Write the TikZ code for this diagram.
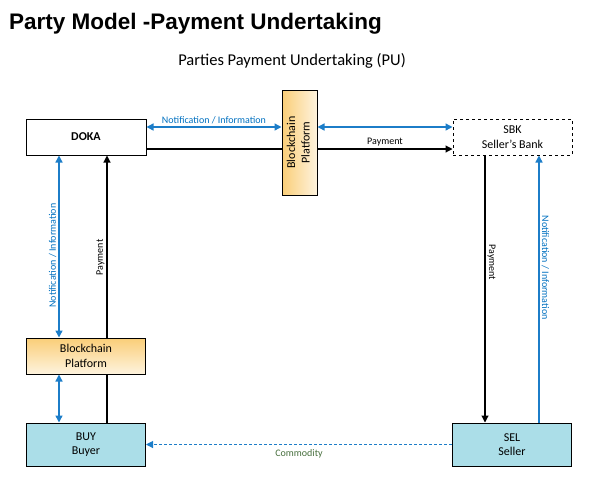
\documentclass[tikz,border=0pt]{standalone}
\usepackage{fontspec}
\setmainfont{Carlito}
\newfontfamily\titlefont{Liberation Sans}
\usetikzlibrary{positioning, arrows.meta}

\definecolor{infoblue}{RGB}{0,112,192}
\definecolor{linkblue}{RGB}{28,125,200}
\definecolor{goodsgreen}{RGB}{70,110,60}
\definecolor{chaintop}{RGB}{250,206,120}
\definecolor{chainbot}{RGB}{254,243,222}
\definecolor{partyfill}{RGB}{171,222,232}

\begin{document}
\begin{tikzpicture}[x=1pt, y=-1pt, node distance=100pt, on grid, auto]
        \tikzset{>={Triangle[length=7pt,width=7pt]}}
        % Define attributes for boxes and links
        \tikzstyle{party}=[draw, line width=1pt, minimum width=119pt, minimum height=36pt, align=center, inner sep=0pt, font=\fontsize{12}{14.5}\selectfont]
        \tikzstyle{party fill}=[party, fill=partyfill, minimum height=43pt]
        \tikzstyle{chain}=[party, top color=chaintop, bottom color=chainbot]
        \tikzstyle{info}=[linkblue, line width=1.4pt, <->]
        \tikzstyle{pay}=[black, line width=1.1pt]
        \tikzstyle{lbl}=[font=\fontsize{10}{12}\selectfont, inner sep=2pt]

        \useasboundingbox (0,0) rectangle (592,483);
        \node[anchor=base west, font=\titlefont\bfseries\fontsize{22.5}{26}\selectfont, inner sep=0pt] (title) at (9,29) {Party Model -Payment Undertaking};
        \node[font=\fontsize{16.5}{20}\selectfont, inner sep=0pt] (subtitle) at (292,61) {Parties Payment Undertaking (PU)};

        \node[party, minimum width=120pt] (doka) at (86,137) {\textbf{DOKA}};
        \node[party, dashed] (sbk) [right=426.5pt of doka] {SBK\\Seller's Bank};
        \node[party, minimum width=35pt, minimum height=105pt, left color=chaintop, right color=chainbot] (bcv) at (299.5,142.5) {\rotatebox{90}{\begin{tabular}{c}Blockchain\\Platform\end{tabular}}};
        \node[party fill] (buy) [below=307.5pt of doka] {BUY\\Buyer};
        \node[chain] (bcl) [above=88.5pt of buy] {Blockchain\\Platform};
        \node[party fill] (sel) [right=426pt of buy] {SEL\\Seller};

        % top row
        \draw[info] ([yshift=10pt]doka.east) -- ([yshift=10pt]doka.east -| bcv.west)
          node[lbl, midway, anchor=south, infoblue] {Notification / Information};
        \draw[info] ([yshift=10pt]sbk.west -| bcv.east) -- ([yshift=10pt]sbk.west);
        \draw[pay] ([yshift=-12pt]doka.east) -- ([yshift=-12pt]doka.east -| bcv.west);
        \draw[pay, ->] ([yshift=-12pt]sbk.west -| bcv.east) -- ([yshift=-12pt]sbk.west)
          node[lbl, midway, anchor=south] {Payment};

        % buyer side
        \draw[info] ([xshift=-27pt]doka.south) -- ([xshift=-27pt]doka.south |- bcl.north)
          node[lbl, pos=0.55, anchor=south, rotate=90, infoblue] {Notification / Information};
        \draw[info] ([xshift=-27pt]doka.south |- bcl.south) -- ([xshift=-27pt]doka.south |- buy.north);
        \draw[pay] ([xshift=21pt]doka.south |- buy.north) -- ([xshift=21pt]doka.south |- bcl.south);
        \draw[pay, ->] ([xshift=21pt]doka.south |- bcl.north) -- ([xshift=21pt]doka.south)
          node[lbl, pos=0.44, anchor=south, rotate=90] {Payment};

        % seller side
        \draw[pay, ->] ([xshift=-27.5pt]sbk.south) -- ([xshift=-27.5pt]sbk.south |- sel.north)
          node[lbl, pos=0.4, anchor=south, rotate=-90] {Payment};
        \draw[info, ->] ([xshift=26.5pt]sbk.south |- sel.north) -- ([xshift=26.5pt]sbk.south)
          node[lbl, pos=0.58, anchor=south, rotate=-90, infoblue] {Notification / Information};

        % goods
        \draw[linkblue, line width=1.1pt, dash pattern=on 3pt off 2pt, ->] (sel.west) -- (sel.west -| buy.east)
          node[lbl, midway, anchor=north, goodsgreen, yshift=-2pt] {Commodity};
    \end{tikzpicture}
\end{document}
